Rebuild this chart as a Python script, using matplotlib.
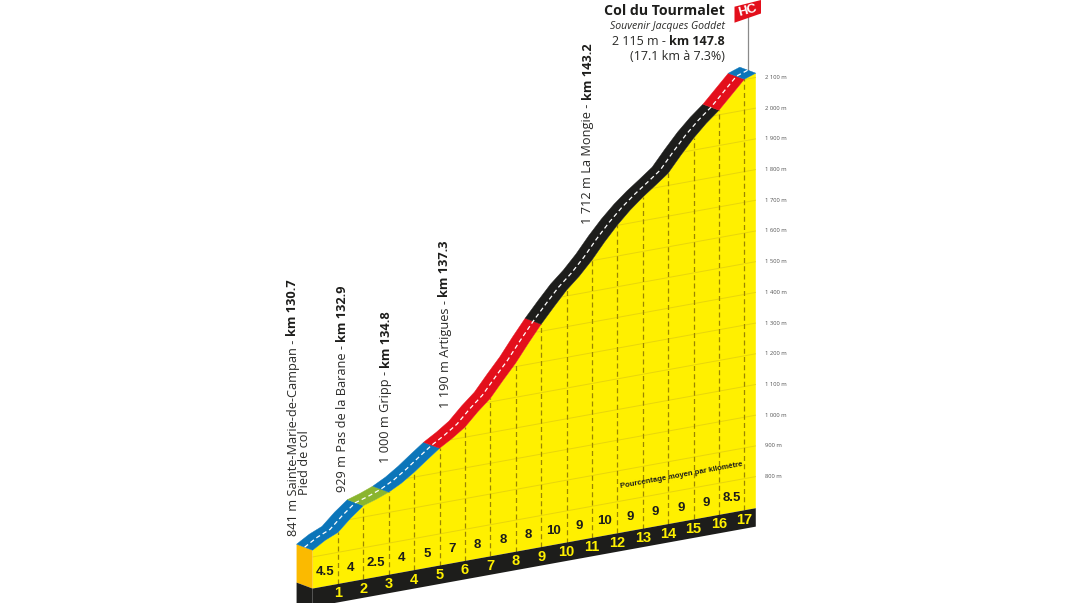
import matplotlib
matplotlib.use("Agg")
import matplotlib.pyplot as plt
from matplotlib.patches import Polygon
from matplotlib.transforms import Affine2D
import numpy as np

km = [0, 0.5, 1, 1.5, 2, 2.5, 3, 3.5, 4, 4.5, 5, 5.5, 6, 6.5, 7, 7.5, 8, 8.5, 9, 9.5, 10, 10.5, 11, 11.5, 12, 12.5,
      13, 13.5, 14, 14.5, 15, 15.5, 16, 16.5, 17, 17.45]
alt = [822, 847, 865, 904, 937, 950, 966, 988, 1016, 1048, 1079, 1104, 1133, 1175, 1212, 1263, 1312, 1369, 1423, 1472,
       1519, 1557, 1602, 1654, 1701, 1742, 1777, 1808, 1840, 1891, 1939, 1980, 2015, 2058, 2101, 2114]
km_marks = [1, 2, 3, 4, 5, 6, 7, 8, 9, 10, 11, 12, 13, 14, 15, 16, 17]
pct = ["4.5", "4", "2.5", "4", "5", "7", "8", "8", "8", "10", "9", "10", "9", "9", "9", "9", "8.5"]
alt_ticks = [800, 900, 1000, 1100, 1200, 1300, 1400, 1500, 1600, 1700, 1800, 1900, 2000, 2100]
alt_labels = ["800 m", "900 m", "1 000 m", "1 100 m", "1 200 m", "1 300 m", "1 400 m", "1 500 m",
              "1 600 m", "1 700 m", "1 800 m", "1 900 m", "2 000 m", "2 100 m"]
# road colour per stretch: start km, end km, colour
seg_start = [0, 2, 3, 5, 9, 16, 17]
seg_end = [2, 3, 5, 9, 16, 17, 17.45]
seg_col = ["#0b75b9", "#8ab52f", "#0b75b9", "#e30f1b", "#1d1d1b", "#e30f1b", "#0b75b9"]

YELLOW = "#fff000"
DARK = "#1d1d1b"
NUM_FONT = "Liberation Sans"  # closest installed to the condensed bold of the original
TILT = 15.0  # the whole profile leans up by this many metres per km
BASE_TOP = 697
BASE_BOT = 637
BACK_KM = -0.63  # offset of the far edge of the road
BACK_Y = 19.5

plt.rcParams["font.family"] = ["Open Sans", "DejaVu Sans"]

fig = plt.figure(figsize=(10.72, 6.03), dpi=100)
ax = fig.add_axes([0, 0, 1, 1])
ax.set_xlim(-12.307, 29.9)
ax.set_ylim(650, 2614)
ax.axis("off")
pix = Affine2D().scale(1 / 1072, -1 / 603).translate(0, 1) + fig.transFigure


def sy(k, a):
    return np.asarray(a, dtype=float) + TILT * np.asarray(k, dtype=float)


km_a = np.array(km, dtype=float)
alt_a = np.array(alt, dtype=float)
top_y = sy(km_a, alt_a)

# base strip and left side
ax.fill([km_a[0], km_a[-1], km_a[-1], km_a[0]],
        [sy(km_a[0], BASE_TOP), sy(km_a[-1], BASE_TOP), sy(km_a[-1], BASE_BOT), sy(km_a[0], BASE_BOT)],
        color=DARK, lw=0, zorder=2)
ax.fill([BACK_KM, 0, 0, BACK_KM],
        [top_y[0] + BACK_Y, top_y[0], sy(0, BASE_TOP), sy(0, BASE_TOP) + BACK_Y],
        color="#fbba00", lw=0, zorder=2)
ax.fill([BACK_KM, 0, 0, BACK_KM],
        [sy(0, BASE_TOP) + BACK_Y, sy(0, BASE_TOP), 600, 600],
        color=DARK, lw=0, zorder=2)

# yellow face
face = Polygon(np.column_stack([np.r_[km_a, km_a[-1], km_a[0]],
                                np.r_[top_y, sy(km_a[-1], BASE_TOP), sy(km_a[0], BASE_TOP)]]),
               closed=True, fc=YELLOW, ec="none", zorder=1)
ax.add_patch(face)

# altitude lines
for a in alt_ticks:
    ln, = ax.plot([km_a[0], km_a[-1]], [sy(km_a[0], a), sy(km_a[-1], a)], color="#e8d60c", lw=0.7, zorder=1.5)
    ln.set_clip_path(face)

# km dashed lines
for k in km_marks:
    ax.plot([k, k], [sy(k, BASE_TOP), top_y[km.index(k)]], color="#9b8600", lw=0.9,
            dashes=(4, 2.6), zorder=1.6)

# road
for s, e, c in zip(seg_start, seg_end, seg_col):
    m = (km_a >= s) & (km_a <= e)
    xs = np.r_[km_a[m], km_a[m][::-1] + BACK_KM]
    ys = np.r_[top_y[m], top_y[m][::-1] + BACK_Y]
    ax.fill(xs, ys, color=c, lw=0.3, zorder=3)
ax.plot(km_a + BACK_KM / 2, top_y + BACK_Y / 2, color="white", lw=0.9, dashes=(3.5, 2.5), zorder=4)

# percent and km numbers
for i, p in enumerate(pct):
    ax.text(i + 0.5, sy(i + 0.5, 743), p, family=NUM_FONT, weight="bold", fontsize=9.5, color=DARK,
            ha="center", va="center", zorder=5)
for k in km_marks:
    ax.text(k, sy(k, 666), str(k), family=NUM_FONT, weight="bold", fontsize=10.5, color=YELLOW,
            ha="center", va="center", zorder=5)

# altitude tick labels
for a, lab in zip(alt_ticks, alt_labels):
    ax.text(17.8, sy(17.45, a), lab, fontsize=4.2, color="#555555", ha="left", va="center")

ax.text(681, 475, "Pourcentage moyen par kilomètre", transform=pix, family=NUM_FONT, weight="bold", fontsize=5.6,
        color=DARK, rotation=10.3, rotation_mode="anchor", ha="center", va="center", zorder=5)


def climb_label(x, y, plain, bold):
    t = ax.text(x, y, plain, transform=pix, rotation=90, fontsize=9.2, color="#2a2a28", ha="center", va="bottom")
    fig.canvas.draw()
    h = t.get_window_extent().height
    ax.text(x, y - h, bold, transform=pix, rotation=90, fontsize=9.2, weight="bold", color=DARK,
            ha="center", va="bottom")


climb_label(293, 536, "841 m Sainte-Marie-de-Campan - ", "km 130.7")
climb_label(343, 492, "929 m Pas de la Barane - ", "km 132.9")
climb_label(386, 463, "1 000 m Gripp - ", "km 134.8")
climb_label(445, 408, "1 190 m Artigues - ", "km 137.3")
climb_label(588, 224, "1 712 m La Mongie - ", "km 143.2")
ax.text(305, 495, "Pied de col", transform=pix, rotation=90, fontsize=9.2, color="#2a2a28", ha="center", va="bottom")

# summit text
ax.text(725, 11, "Col du Tourmalet", transform=pix, fontsize=10.2, weight="bold", color=DARK, ha="right", va="center")
ax.text(725, 27, "Souvenir Jacques Goddet", transform=pix, fontsize=7.6, style="italic", color="#2a2a28",
        ha="right", va="center")
t2 = ax.text(725, 41.5, "km 147.8", transform=pix, fontsize=9, weight="bold", color=DARK, ha="right", va="center")
fig.canvas.draw()
ax.text(725 - t2.get_window_extent().width, 41.5, "2 115 m - ", transform=pix, fontsize=9, color="#2a2a28",
        ha="right", va="center")
ax.text(725, 56, "(17.1 km à 7.3%)", transform=pix, fontsize=9, color="#2a2a28", ha="right", va="center")

# flag
ax.plot([747.5, 747.5], [14, 72], transform=pix, color="#8a8a8a", lw=0.9, zorder=2)
ax.add_patch(Polygon([(734.5, 6.7), (761, 0), (761, 13.5), (734.5, 22.7)], closed=True, transform=pix,
                     fc="#e30f1b", ec="none", zorder=3))
ax.text(748, 10.8, "HC", transform=pix, family=NUM_FONT, weight="bold", fontsize=9.5, color="white", rotation=15,
        rotation_mode="anchor", ha="center", va="center", zorder=4)

fig.savefig("out.png", dpi=100, facecolor="white")
